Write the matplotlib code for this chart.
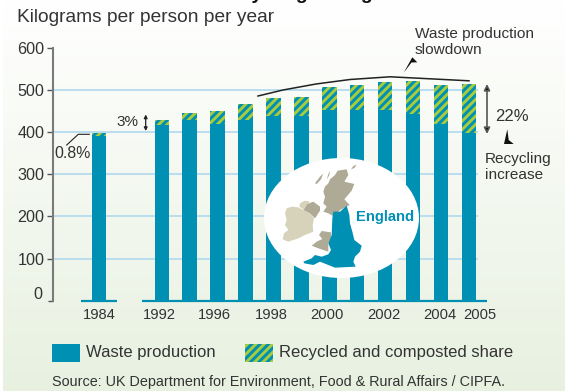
import numpy as np
import matplotlib
matplotlib.use('Agg')
import matplotlib.pyplot as plt
from matplotlib.patches import Ellipse, Polygon, Rectangle

plt.rcParams['font.family'] = ['Liberation Sans', 'DejaVu Sans']
plt.rcParams['hatch.linewidth'] = 2.1

# kg per person per year
years = [1984, 1992, 1994, 1996, 1997, 1998, 1999, 2000, 2001, 2002, 2003, 2004, 2005]
waste_part = [391, 417, 428, 419, 428, 438, 438, 453, 453, 453, 443, 420, 398]
recycled_part = [7, 11, 17, 31, 38, 43, 45, 54, 58, 66, 78, 91, 116]
y_ticks = [100, 200, 300, 400, 500, 600]
year_labels = ['1984', '1992', '1996', '1998', '2000', '2002', '2004', '2005']
labelled_years = [1984, 1992, 1996, 1998, 2000, 2002, 2004, 2005]
label_shift = [0, -0.1, -0.1, -0.08, -0.08, -0.04, -0.04, 0.4]

TEAL = '#0090b4'
GREEN = '#a8cc3c'
GRID = '#b9deef'
TXT = '#333333'
GREY = '#aeaa96'
PALE = '#d6d3ba'
W, H = 567, 391

fig = plt.figure(figsize=(W / 100, H / 100), dpi=100, facecolor='white')

# background fade, white at the top to pale green at the bottom
bg = fig.add_axes([3 / W, 0, 562 / W, 1], zorder=0)
top = np.array([1.0, 1.0, 1.0])
bot = np.array([0.91, 0.945, 0.88])
t = np.linspace(0, 1, 200)[:, None, None]
bg.imshow(top + (bot - top) * t, aspect='auto')
bg.axis('off')

# main chart, one x unit is one bar slot
ax = fig.add_axes([53 / W, 1 - 300.7 / H, 437 / W, 253 / H], zorder=1)
ax.patch.set_visible(False)
ax.set_xlim(-3.9, 11.76)
ax.set_ylim(0, 600)

x = np.arange(len(years), dtype=float) - 1
x[0] = -2.25

ax.hlines(y_ticks[:-1], -3.9, 11.32, color=GRID, lw=1.4, zorder=1)
ax.bar(x, waste_part, width=0.52, color=TEAL, lw=0, zorder=2)
ax.bar(x, recycled_part, width=0.52, bottom=waste_part, facecolor=TEAL,
       edgecolor=GREEN, hatch='////', lw=0, zorder=2)
ax.plot([-2.9, -1.6], [-1, -1], color=TEAL, lw=1.6, solid_capstyle='butt', clip_on=False, zorder=3)
ax.plot([-0.72, 11.65], [-1, -1], color=TEAL, lw=1.6, solid_capstyle='butt', clip_on=False, zorder=3)

for s in ['top', 'right', 'bottom']:
    ax.spines[s].set_visible(False)
ax.spines['left'].set_color('#7a7a7a')
ax.spines['left'].set_linewidth(1.5)
ax.set_yticks(y_ticks)
ax.set_yticks([0], minor=True)
ax.tick_params(axis='y', which='major', length=4, width=1, color='#555555',
               labelsize=11.6, labelcolor=TXT, pad=2)
ax.tick_params(axis='y', which='minor', length=3.5, width=1, color='#555555')
# the zero sits a little above its tick in the original
ax.text(-4.27, 14, '0', ha='right', va='center', fontsize=11.6, color=TXT)

tick_x = [x[years.index(y)] + d for y, d in zip(labelled_years, label_shift)]
ax.set_xticks(tick_x, year_labels)
ax.tick_params(axis='x', length=0, labelsize=10.6, labelcolor=TXT, pad=5.5)

# overlay in pixel coordinates for the map, notes and legend
ov = fig.add_axes([0, 0, 1, 1], zorder=2)
ov.set_xlim(0, W)
ov.set_ylim(H, 0)
ov.axis('off')


def shape(pts, ox, oy, color, z=6):
    xy = [(ox + a / 3, oy + b / 3) for a, b in pts]
    ov.add_patch(Polygon(xy, closed=True, fc=color, ec='none', zorder=z))


ov.add_patch(Ellipse((341.5, 218), 155, 120, fc='white', ec='none', zorder=5))

# Britain and Ireland, rough outlines
scotland = [(120, 45), (128, 32), (155, 28), (160, 45), (148, 65), (178, 72), (170, 92), (148, 118),
            (164, 135), (135, 150), (118, 170), (100, 160), (85, 155), (95, 140), (85, 130),
            (90, 110), (85, 95), (90, 80), (100, 70), (105, 58)]
shape(scotland, 295, 160, GREY)
shape([(60, 70), (75, 50), (85, 40), (78, 58), (65, 72)], 295, 160, GREY)
shape([(105, 32), (100, 42), (95, 60), (103, 45)], 295, 160, GREY)
shape([(168, 28), (175, 18), (185, 14), (178, 24)], 295, 160, GREY)
wales = [(80, 48), (108, 52), (108, 68), (100, 85), (100, 110), (70, 100), (50, 92), (65, 80),
         (82, 72), (72, 60)]
shape(wales, 295, 215, GREY)
england = [(155, -28), (163, 0), (165, 25), (172, 50), (178, 75), (200, 92), (195, 110),
           (180, 125), (175, 140), (182, 155), (120, 158), (100, 150), (75, 140), (55, 150),
           (28, 145), (25, 140), (50, 130), (60, 120), (80, 125), (100, 118), (108, 105),
           (100, 85), (110, 60), (112, 10), (115, -10), (135, -10)]
shape(england, 295, 215, TEAL)
ireland = [(50, 55), (65, 50), (85, 52), (100, 60), (120, 70), (132, 85), (128, 105), (130, 125),
           (105, 135), (85, 145), (55, 155), (38, 148), (42, 130), (55, 120), (45, 105),
           (50, 90), (45, 70)]
shape(ireland, 270, 190, PALE)
shape([(90, 40), (105, 32), (120, 35), (110, 45), (100, 58), (88, 50)], 270, 190, PALE)
shape([(100, 60), (112, 42), (130, 35), (150, 50), (150, 62), (135, 85), (120, 70)], 270, 190, GREY)
ov.text(385.5, 217, 'England', color=TEAL, fontsize=10.6, fontweight='bold',
        ha='center', va='center', zorder=7)

# title cut by the top edge, only descenders show
ov.text(120, -1, 'Waste and recycling in England', fontsize=14, fontweight='bold',
        color='#111111', ha='left', va='baseline', clip_on=True)
ov.text(17, 18, 'Kilograms per person per year', fontsize=13.75, color=TXT, ha='left', va='center')

# slowdown curve and notes
cx = [258, 283, 316, 350, 390, 430, 469]
cy = [96, 90, 84, 79.5, 76.8, 78.8, 80.8]
ov.plot(cx, cy, color='#222222', lw=1.1, zorder=4)
ov.text(415, 42, 'Waste production\nslowdown', fontsize=11.1, color=TXT, ha='left', va='center',
        linespacing=1.15)
ov.add_patch(Polygon([(403.7, 72.7), (412.3, 57.3), (417.3, 62.3), (411.5, 62.5)], fc='#111111', ec='none', zorder=7))
ov.add_patch(Polygon([(507.3, 129.3), (504, 144), (513.7, 144), (508.7, 140)], fc='#111111', ec='none', zorder=7))

ov.annotate('', xy=(487, 84), xytext=(487, 134),
            arrowprops=dict(arrowstyle='<|-|>', color='#555555', lw=1.2, mutation_scale=9,
                            shrinkA=0, shrinkB=0, fc='#111111'))
ov.text(495, 116.7, '22%', fontsize=12, color=TXT, ha='left', va='center')
ov.text(484.7, 166.7, 'Recycling\nincrease', fontsize=11.1, color=TXT, ha='left', va='center', linespacing=1.15)

ov.annotate('', xy=(145.7, 114.5), xytext=(145.7, 131),
            arrowprops=dict(arrowstyle='<|-|>', color='#222222', lw=0.9, mutation_scale=5,
                            shrinkA=0, shrinkB=0))
ov.text(116.7, 121.7, '3%', fontsize=11, color=TXT, ha='left', va='center')
ov.plot([66.7, 78.3, 89.3], [145, 134.3, 134.3], color='#222222', lw=0.8, zorder=4)
ov.text(54, 153, '0.8%', fontsize=11.4, color=TXT, ha='left', va='center')

# legend
ov.add_patch(Rectangle((52, 344), 28, 18, fc=TEAL, ec='none'))
ov.add_patch(Rectangle((245, 344), 28, 18, fc=TEAL, ec=GREEN, hatch='////', lw=0))
ov.text(86, 353, 'Waste production', fontsize=12, color=TXT, ha='left', va='center')
ov.text(279, 353, 'Recycled and composted share', fontsize=12, color=TXT, ha='left', va='center')
ov.text(52.5, 382, 'Source: UK Department for Environment, Food & Rural Affairs / CIPFA.',
        fontsize=10.35, color=TXT, ha='left', va='center')

fig.savefig('out.png', dpi=100, facecolor=fig.get_facecolor())
